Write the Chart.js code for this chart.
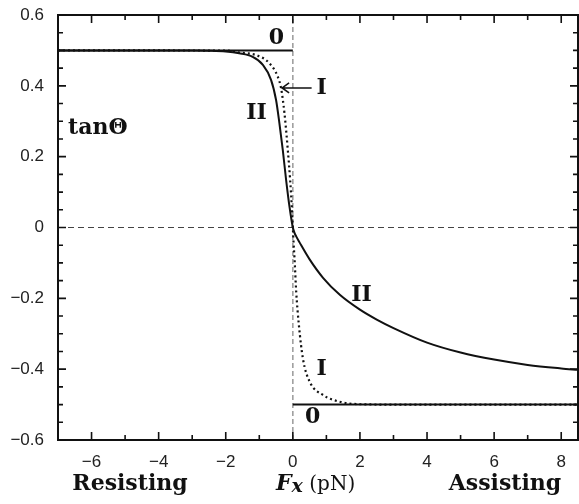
<!DOCTYPE html>
<html>
<head>
<meta charset="utf-8">
<title>tanΘ vs Fx</title>
<script src="https://cdn.jsdelivr.net/npm/chart.js"></script>
<style>
  html, body { margin: 0; padding: 0; background: #fff; }
</style>
</head>
<body>
<canvas id="tanChart" width="579" height="504"></canvas>
<script>
// curve II (solid)
const xII = [-7, -3, -2.5, -2, -1.6, -1.2, -0.9, -0.65, -0.5, -0.4, -0.3, -0.2, -0.1, 0, 0.05, 0.1, 0.2, 0.5, 0.9, 1.4, 2, 2.5, 3, 4, 5, 6, 7, 8, 8.5];
const yII = [0.5, 0.4995, 0.499, 0.497, 0.492, 0.482, 0.46, 0.417, 0.36, 0.294, 0.219, 0.134, 0.059, 0, -0.015, -0.025, -0.042, -0.09, -0.142, -0.19, -0.232, -0.26, -0.284, -0.325, -0.353, -0.373, -0.388, -0.398, -0.402];
// curve I (dotted)
const xI = [-7, -2, -1.6, -1.1, -0.7, -0.45, -0.35, -0.25, -0.15, -0.08, -0.02, 0, 0.02, 0.05, 0.1, 0.18, 0.3, 0.5, 0.9, 1.4, 2, 3, 8.5];
const yI = [0.5, 0.4995, 0.494, 0.487, 0.464, 0.426, 0.393, 0.323, 0.219, 0.134, 0.04, 0, -0.04, -0.087, -0.181, -0.275, -0.37, -0.435, -0.473, -0.492, -0.499, -0.5, -0.5];
// curve 0 (step)
const x0Left = [-7, 0];
const y0Left = [0.5, 0.5];
const x0Right = [0, 8.5];
const y0Right = [-0.5, -0.5];

const xTicks = [-6, -4, -2, 0, 2, 4, 6, 8];
const xMinor = [-7, -5, -3, -1, 1, 3, 5, 7];
const yTicks = [-0.6, -0.4, -0.2, 0, 0.2, 0.4, 0.6];
const yMinor = [-0.55, -0.5, -0.45, -0.35, -0.3, -0.25, -0.15, -0.1, -0.05, 0.05, 0.1, 0.15, 0.25, 0.3, 0.35, 0.45, 0.5, 0.55];

const notes = [
  { t: '0', x: -0.49, y: 0.535 },
  { t: 'II', x: -1.08, y: 0.323 },
  { t: 'I', x: 0.86, y: 0.394 },
  { t: 'II', x: 2.05, y: -0.19 },
  { t: 'I', x: 0.86, y: -0.40 },
  { t: '0', x: 0.59, y: -0.535 }
];

const pts = (xs, ys) => xs.map((x, i) => ({ x: x, y: ys[i] }));
const fmt = v => (v < 0 ? '\u2212' : '') + Math.abs(v).toString();

const decor = {
  id: 'decor',
  afterDraw(chart) {
    const ctx = chart.ctx;
    const { left, right, top, bottom } = chart.chartArea;
    const sx = chart.scales.x, sy = chart.scales.y;
    ctx.save();
    ctx.strokeStyle = '#111';
    ctx.lineWidth = 2;
    ctx.strokeRect(left, top, right - left, bottom - top);
    ctx.lineWidth = 1.6;
    ctx.beginPath();
    const tickX = (v, len) => {
      const p = sx.getPixelForValue(v);
      ctx.moveTo(p, bottom); ctx.lineTo(p, bottom - len);
      ctx.moveTo(p, top); ctx.lineTo(p, top + len);
    };
    const tickY = (v, len) => {
      const p = sy.getPixelForValue(v);
      ctx.moveTo(left, p); ctx.lineTo(left + len, p);
      ctx.moveTo(right, p); ctx.lineTo(right - len, p);
    };
    xTicks.forEach(v => tickX(v, 8));
    xMinor.forEach(v => tickX(v, 5));
    yTicks.forEach(v => tickY(v, 8));
    yMinor.forEach(v => tickY(v, 5));
    ctx.stroke();

    // curve labels
    ctx.fillStyle = '#111';
    ctx.textAlign = 'center';
    ctx.textBaseline = 'middle';
    ctx.font = 'bold 22px "DejaVu Serif"';
    notes.forEach(n => ctx.fillText(n.t, sx.getPixelForValue(n.x), sy.getPixelForValue(n.y)));
    ctx.textAlign = 'left';
    ctx.fillText('tan\u0398', sx.getPixelForValue(-6.7), sy.getPixelForValue(0.28));

    // arrow to curve I
    const ay = sy.getPixelForValue(0.394);
    const a1 = sx.getPixelForValue(0.56), a0 = sx.getPixelForValue(-0.32);
    ctx.lineWidth = 1.6;
    ctx.beginPath();
    ctx.moveTo(a1, ay); ctx.lineTo(a0, ay);
    ctx.moveTo(a0 + 7, ay - 5); ctx.lineTo(a0, ay); ctx.lineTo(a0 + 7, ay + 5);
    ctx.stroke();

    // axis words
    ctx.textBaseline = 'alphabetic';
    ctx.textAlign = 'center';
    ctx.font = 'bold 22px "DejaVu Serif"';
    ctx.fillText('Resisting', 130, 490);
    ctx.fillText('Assisting', 505, 490);
    ctx.textAlign = 'left';
    ctx.font = 'italic bold 22px "DejaVu Serif"';
    ctx.fillText('F', 276, 490);
    let w = ctx.measureText('F').width;
    ctx.font = 'italic bold 19px "DejaVu Serif"';
    ctx.fillText('x', 276 + w, 492);
    w += ctx.measureText('x').width;
    ctx.font = '20px "DejaVu Serif"';
    ctx.fillText(' (pN)', 276 + w, 490);
    ctx.restore();
  }
};

const lineDs = (data, extra) => Object.assign({
  data: data, showLine: true, pointRadius: 0, borderColor: '#111',
  borderWidth: 2, fill: false
}, extra);

new Chart(document.getElementById('tanChart'), {
  type: 'scatter',
  data: {
    datasets: [
      lineDs(pts(xII, yII), { label: 'II', cubicInterpolationMode: 'monotone' }),
      lineDs(pts(xI, yI), { label: 'I', cubicInterpolationMode: 'monotone', borderDash: [2, 3], borderWidth: 2.2 }),
      lineDs(pts(x0Left, y0Left), { label: '0' }),
      lineDs(pts(x0Right, y0Right), { label: '0 ' }),
      lineDs(pts([-7, 8.5], [0, 0]), { label: 'y0', borderColor: '#444', borderWidth: 1.2, borderDash: [6, 4] }),
      lineDs(pts([0, 0], [-0.6, 0.6]), { label: 'x0', borderColor: '#999', borderWidth: 1.5, borderDash: [5, 3] })
    ]
  },
  options: {
    responsive: false,
    animation: false,
    layout: { padding: { top: 15, right: 1, left: 0, bottom: 0 } },
    plugins: { legend: { display: false }, tooltip: { enabled: false } },
    scales: {
      x: {
        type: 'linear', min: -7, max: 8.5,
        afterBuildTicks: s => { s.ticks = xTicks.map(v => ({ value: v })); },
        afterFit: s => { s.height = 64; },
        grid: { display: false, drawTicks: false },
        border: { display: false },
        ticks: { callback: fmt, padding: 12, color: '#222', font: { family: '"Liberation Sans"', size: 17 }, maxRotation: 0 }
      },
      y: {
        type: 'linear', min: -0.6, max: 0.6,
        afterBuildTicks: s => { s.ticks = yTicks.map(v => ({ value: v })); },
        afterFit: s => { s.width = 58; s.paddingTop = 0; s.paddingBottom = 0; },
        grid: { display: false, drawTicks: false },
        border: { display: false },
        ticks: { callback: v => fmt(Math.round(v * 10) / 10), padding: 14, color: '#222', font: { family: '"Liberation Sans"', size: 17 } }
      }
    }
  },
  plugins: [decor]
});
</script>
</body>
</html>
